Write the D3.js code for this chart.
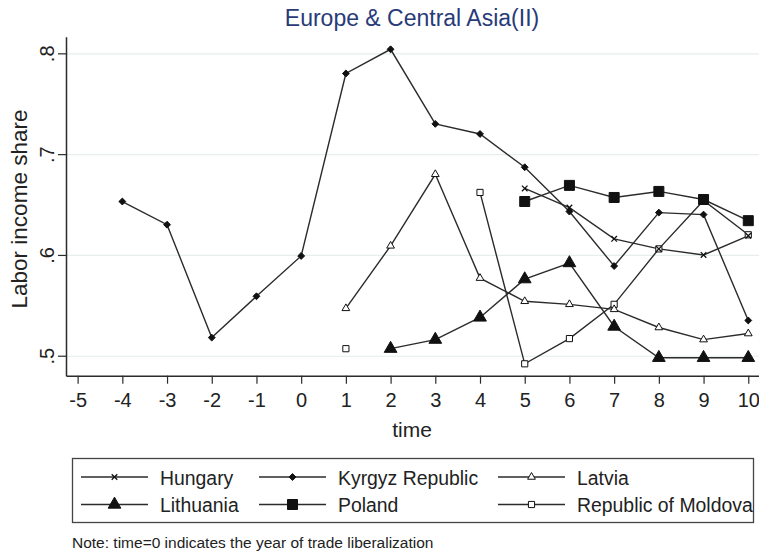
<!DOCTYPE html>
<html>
<head>
<meta charset="utf-8">
<script src="https://cdn.jsdelivr.net/npm/d3@7"></script>
<style>
  body { margin: 0; background: #fff; }
  svg { display: block; font-family: "Liberation Sans", Arial, Helvetica, sans-serif; }
</style>
</head>
<body>
<svg id="chart" width="759" height="552"></svg>
<script>
// Years relative to trade liberalization (time = 0)
const times = [-4, -3, -2, -1, 0, 1, 2, 3, 4, 5, 6, 7, 8, 9, 10];

// Labor income share by country; null = no observation
const hungary   = [null, null, null, null, null, null, null, null, null, 0.666, 0.647, 0.616, 0.606, 0.600, 0.619];
const kyrgyz    = [0.653, 0.630, 0.518, 0.559, 0.599, 0.780, 0.804, 0.730, 0.720, 0.687, 0.643, 0.589, 0.642, 0.640, 0.535];
const latvia    = [null, null, null, null, null, 0.547, 0.609, 0.680, 0.577, 0.554, 0.551, 0.546, 0.528, 0.516, 0.522];
const lithuania = [null, null, null, null, null, null, 0.507, 0.516, 0.538, 0.576, 0.592, 0.529, 0.498, 0.498, 0.498];
const poland    = [null, null, null, null, null, null, null, null, null, 0.653, 0.669, 0.657, 0.663, 0.655, 0.634];
const moldova   = [null, null, null, null, null, 0.507, null, null, 0.662, 0.492, 0.517, 0.551, 0.606, 0.654, 0.620];

// Axis ticks
const xTicks = [-5, -4, -3, -2, -1, 0, 1, 2, 3, 4, 5, 6, 7, 8, 9, 10];
const yTicks = [0.5, 0.6, 0.7, 0.8];
const yTickLabels = [".5", ".6", ".7", ".8"];

const title = "Europe & Central Asia(II)";
const xTitle = "time";
const yTitle = "Labor income share";
const note = "Note: time=0 indicates the year of trade liberalization";

// Marker styles per series
const series = [
  { name: "Hungary",             values: hungary,   symbol: "x",        size: 22,  fill: false },
  { name: "Kyrgyz Republic",     values: kyrgyz,    symbol: "diamond",  size: 30,  fill: true  },
  { name: "Latvia",              values: latvia,    symbol: "triangle", size: 26,  fill: false },
  { name: "Lithuania",           values: lithuania, symbol: "triangle", size: 70,  fill: true  },
  { name: "Poland",              values: poland,    symbol: "square",   size: 100, fill: true  },
  { name: "Republic of Moldova", values: moldova,   symbol: "square",   size: 38,  fill: false }
];

const svg = d3.select("#chart");
const W = 759;

const x = d3.scaleLinear().domain([-5.26, 10.24]).range([66, 759]);
const y = d3.scaleLinear().domain([0.4802, 0.8165]).range([375.7, 36.7]);

const ink = "#2b2b2b";

// Horizontal grid lines
svg.append("g")
  .attr("transform", `translate(66,0)`)
  .call(d3.axisLeft(y).tickValues(yTicks).tickSize(-(W - 66)).tickFormat(""))
  .call(g => g.select(".domain").remove())
  .call(g => g.selectAll("line").attr("stroke", "#e6eeee").attr("stroke-width", 1.2));

// Y axis
svg.append("g")
  .attr("transform", `translate(66,0)`)
  .call(d3.axisLeft(y).tickValues(yTicks).tickSize(8).tickSizeOuter(0)
        .tickFormat((d, i) => yTickLabels[i]))
  .call(g => g.select(".domain").attr("stroke", ink).attr("stroke-width", 1.5))
  .call(g => g.selectAll(".tick line").attr("stroke", ink).attr("stroke-width", 1.2))
  .call(g => g.selectAll(".tick text")
    .attr("x", null).attr("y", null).attr("dy", null)
    .attr("transform", "translate(-12,0) rotate(-90)")
    .attr("text-anchor", "middle")
    .attr("font-size", 20).attr("fill", "#222"))
  .attr("font-family", null);

// X axis
svg.append("g")
  .attr("transform", `translate(0,${y.range()[0]})`)
  .call(d3.axisBottom(x).tickValues(xTicks).tickSize(8).tickSizeOuter(0).tickFormat(d3.format("d")))
  .call(g => g.select(".domain").attr("stroke", ink).attr("stroke-width", 1.5))
  .call(g => g.selectAll(".tick line").attr("stroke", ink).attr("stroke-width", 1.2))
  .call(g => g.selectAll(".tick text")
    .attr("y", 31).attr("dy", null)
    .attr("font-size", 20).attr("fill", "#222")
    .text(d => d < 0 ? "-" + Math.abs(d) : d))
  .attr("font-family", null);

// Titles
svg.append("text").attr("x", 412).attr("y", 26).attr("text-anchor", "middle")
  .attr("font-size", 23).attr("fill", "#283a78").text(title);
svg.append("text").attr("x", 412).attr("y", 437).attr("text-anchor", "middle")
  .attr("font-size", 21).attr("fill", "#222").text(xTitle);
svg.append("text").attr("transform", "translate(27,209) rotate(-90)").attr("text-anchor", "middle")
  .attr("font-size", 22.5).attr("fill", "#222").text(yTitle);

// Marker path generator
function markerPath(sym, size) {
  if (sym === "x") return d3.symbol(d3.symbolX, size)();
  if (sym === "diamond") return d3.symbol(d3.symbolDiamond2, size)();
  if (sym === "triangle") return d3.symbol(d3.symbolTriangle, size)();
  return d3.symbol(d3.symbolSquare, size)();
}
function drawMarker(g, s, cx, cy) {
  g.append("path")
    .attr("d", markerPath(s.symbol, s.size))
    .attr("transform", `translate(${cx},${cy})`)
    .attr("fill", s.fill ? "#111" : "#fff")
    .attr("stroke", "#111")
    .attr("stroke-width", s.symbol === "x" ? 1.3 : 1);
}

const line = d3.line()
  .defined(d => d.v != null)
  .x(d => x(d.t))
  .y(d => y(d.v));

const plot = svg.append("g");
series.forEach(s => {
  const pts = times.map((t, i) => ({ t, v: s.values[i] }));
  plot.append("path").datum(pts)
    .attr("d", line)
    .attr("fill", "none")
    .attr("stroke", ink)
    .attr("stroke-width", 1.4);
});
// Markers: later series first so the large filled symbols sit on top
series.slice().reverse().forEach(s => {
  const g = plot.append("g");
  times.forEach((t, i) => {
    if (s.values[i] != null) drawMarker(g, s, x(t), y(s.values[i]));
  });
});

// Legend
const legend = svg.append("g");
legend.append("rect").attr("x", 72.5).attr("y", 458.5).attr("width", 681).attr("height", 64)
  .attr("fill", "none").attr("stroke", "#444").attr("stroke-width", 1.3);
const colX = [81, 259, 498];
const rowY = [477, 504.5];
series.forEach((s, i) => {
  const cx = colX[i % 3], cy = rowY[Math.floor(i / 3)];
  legend.append("line").attr("x1", cx).attr("x2", cx + 67).attr("y1", cy).attr("y2", cy)
    .attr("stroke", ink).attr("stroke-width", 1.4);
  drawMarker(legend, s, cx + 33.5, cy);
  legend.append("text").attr("x", cx + 79).attr("y", cy + 7.5)
    .attr("font-size", 19.4).attr("fill", "#222").text(s.name);
});

// Footnote
svg.append("text").attr("x", 72).attr("y", 548).attr("font-size", 15.5).attr("fill", "#222").text(note);
</script>
</body>
</html>
